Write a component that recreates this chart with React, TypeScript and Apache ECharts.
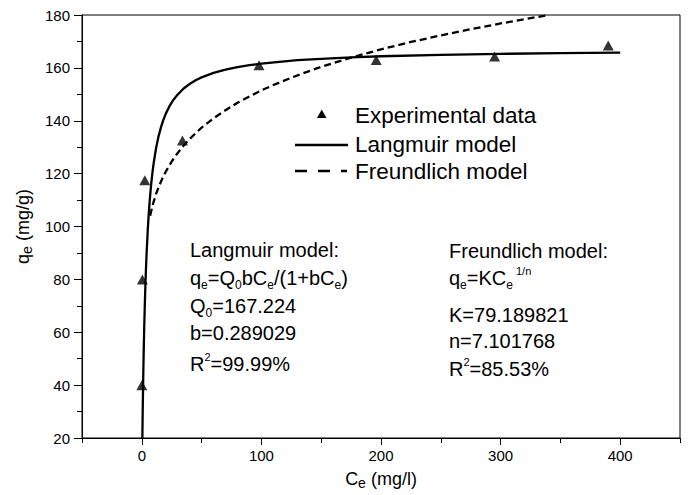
import React, { useEffect, useRef } from "react";
import * as echarts from "echarts";

// Experimental data (Ce in mg/l, qe in mg/g)
const experimentalCe = [0, 0.5, 2.5, 34, 98, 196, 295, 390];
const experimentalQe = [40, 80, 117.5, 132.5, 161, 163, 164.3, 168.5];

// Langmuir model curve
const langmuirCe = [0.47, 0.6, 0.8, 1, 1.25, 1.5, 1.75, 2, 2.5, 3, 3.5, 4, 5, 6, 7, 8, 9, 10, 12, 14, 16, 18, 20, 23, 26, 30, 35, 40, 45, 50, 60, 70, 80, 90, 100, 115, 130, 150, 175, 200, 250, 300, 350, 400];
const langmuirQe = [20, 24.7, 31.4, 37.5, 44.4, 50.6, 56.2, 61.3, 70.1, 77.7, 84.1, 89.7, 98.8, 106.1, 111.9, 116.7, 120.8, 124.2, 129.8, 134.1, 137.5, 140.3, 142.6, 145.4, 147.6, 149.9, 152.2, 153.9, 155.3, 156.4, 158.1, 159.3, 160.3, 161.0, 161.6, 162.3, 162.9, 163.4, 164.0, 164.4, 164.9, 165.3, 165.6, 165.8];

// Freundlich model curve
const freundlichCe = [7, 8, 9, 10, 11, 12, 13, 15, 17, 20, 25, 30, 35, 40, 45, 50, 60, 70, 80, 100, 110, 125, 140, 150, 175, 200, 225, 250, 275, 300, 320, 340];
const freundlichQe = [104.1, 106.1, 107.9, 109.5, 111.0, 112.4, 113.6, 115.9, 118.0, 120.7, 124.6, 127.8, 130.6, 133.1, 135.3, 137.4, 140.9, 144.0, 146.8, 151.5, 153.5, 156.3, 158.8, 160.4, 163.9, 167.0, 169.8, 172.3, 174.6, 176.8, 178.4, 180.0];

// Axis ticks
const xMajorTicks = [0, 100, 200, 300, 400];
const xMinorTicks = [-50, 50, 150, 250, 350, 450];
const xRange = [-50, 450];
const yRange = [20, 180];
const yInterval = 20;

// Texts
const legendLabels = ["Experimental data", "Langmuir model", "Freundlich model"];
const langmuirNotes = [
  "Langmuir model:",
  "q{s|e}=Q{s|0}bC{s|e}/(1+bC{s|e})",
  "Q{s|0}=167.224",
  "b=0.289029",
  "R{p|2}=99.99%",
];
const freundlichNotes = [
  "Freundlich model:",
  "q{s|e}=KC{s|e}{p| 1/n}",
  "K=79.189821",
  "n=7.101768",
  "R{p|2}=85.53%",
];

const FONT = "'Liberation Sans', Arial, Helvetica, sans-serif";

export default function App() {
  const ref = useRef<HTMLDivElement>(null);

  useEffect(() => {
    if (!ref.current) return;
    const chart = echarts.init(ref.current, undefined, { renderer: "svg" });

    const noteRich = {
      s: { fontSize: 12, lineHeight: 12, verticalAlign: "bottom", fontFamily: FONT, fill: "#000" },
      p: { fontSize: 11, lineHeight: 18, verticalAlign: "top", fontFamily: FONT, fill: "#000" },
    };
    const noteText = (text: string, x: number, y: number) => ({
      type: "text",
      x,
      y,
      silent: true,
      style: {
        text,
        fontSize: 20,
        fontFamily: FONT,
        fill: "#000",
        lineHeight: 26,
        textAlign: "left",
        textVerticalAlign: "middle",
        rich: noteRich,
      },
    });

    const leftYs = [250, 278, 306, 333, 364];
    const rightYs = [251, 278, 315, 341, 369];

    const graphics: any[] = [];
    langmuirNotes.forEach((t, i) => graphics.push(noteText(t, 190, leftYs[i])));
    freundlichNotes.forEach((t, i) => graphics.push(noteText(t, 449, rightYs[i])));

    // legend
    graphics.push({
      type: "polygon",
      silent: true,
      shape: { points: [[317, 118], [326.5, 118], [321.75, 109.5]] },
      style: { fill: "#000" },
    });
    graphics.push({
      type: "line",
      silent: true,
      shape: { x1: 295, y1: 145, x2: 348, y2: 145 },
      style: { stroke: "#000", lineWidth: 2.4 },
    });
    graphics.push({
      type: "line",
      silent: true,
      shape: { x1: 295, y1: 171, x2: 347, y2: 171 },
      style: { stroke: "#000", lineWidth: 2.4, lineDash: [12, 11] },
    });
    const legendYs = [115, 144, 171];
    legendLabels.forEach((t, i) =>
      graphics.push({
        type: "text",
        x: 355,
        y: legendYs[i],
        silent: true,
        style: {
          text: t,
          fontSize: 22.5,
          fontFamily: FONT,
          fill: "#000",
          textAlign: "left",
          textVerticalAlign: "middle",
        },
      })
    );

    const axisNameRich = {
      n: { fontSize: 18, lineHeight: 22, fontFamily: FONT, color: "#000", verticalAlign: "middle" },
      s: { fontSize: 14, lineHeight: 12, fontFamily: FONT, color: "#000", verticalAlign: "bottom" },
    };

    const option: any = {
      animation: false,
      backgroundColor: "#fff",
      grid: {
        left: 82,
        right: 8,
        top: 15,
        bottom: 56,
        show: true,
        borderColor: "#000",
        borderWidth: 1,
        backgroundColor: "transparent",
      },
      xAxis: [
        {
          type: "value",
          min: xRange[0],
          max: xRange[1],
          position: "bottom",
          axisLine: { show: true, onZero: false, lineStyle: { color: "#000", width: 1 } },
          axisTick: { show: true, inside: false, length: 7, customValues: xMajorTicks, lineStyle: { color: "#000", width: 1 } },
          axisLabel: { show: true, customValues: xMajorTicks, margin: 10, fontSize: 15, color: "#000", fontFamily: FONT },
          splitLine: { show: false },
          name: "{n|C}{s|e}{n| (mg/l)}",
          nameLocation: "middle",
          nameGap: 30,
          nameTextStyle: { rich: axisNameRich },
        },
        {
          type: "value",
          min: xRange[0],
          max: xRange[1],
          position: "bottom",
          offset: 0,
          axisLine: { show: false, onZero: false },
          axisTick: { show: true, inside: false, length: 5, customValues: xMinorTicks, lineStyle: { color: "#000", width: 1 } },
          axisLabel: { show: false },
          splitLine: { show: false },
        },
      ],
      yAxis: {
        type: "value",
        min: yRange[0],
        max: yRange[1],
        interval: yInterval,
        axisLine: { show: true, onZero: false, lineStyle: { color: "#000", width: 1 } },
        axisTick: { show: true, inside: false, length: 8, lineStyle: { color: "#000", width: 1 } },
        minorTick: { show: true, splitNumber: 2, length: 5, lineStyle: { color: "#000", width: 1 } },
        axisLabel: { margin: 12, fontSize: 15, color: "#000", fontFamily: FONT },
        splitLine: { show: false },
        minorSplitLine: { show: false },
        name: "{n|q}{s|e}{n| (mg/g)}",
        nameLocation: "middle",
        nameGap: 48,
        nameRotate: 90,
        nameTextStyle: { rich: axisNameRich },
      },
      series: [
        {
          name: "Langmuir model",
          type: "line",
          xAxisIndex: 0,
          data: langmuirCe.map((c, i) => [c, langmuirQe[i]]),
          showSymbol: false,
          symbol: "none",
          smooth: false,
          lineStyle: { color: "#000", width: 2.3, join: "round" },
          z: 3,
        },
        {
          name: "Freundlich model",
          type: "line",
          xAxisIndex: 0,
          data: freundlichCe.map((c, i) => [c, freundlichQe[i]]),
          showSymbol: false,
          symbol: "none",
          smooth: false,
          lineStyle: { color: "#000", width: 2.3, type: [7, 4], join: "round" },
          z: 3,
        },
        {
          name: "Experimental data",
          type: "scatter",
          xAxisIndex: 0,
          data: experimentalCe.map((c, i) => [c, experimentalQe[i]]),
          symbol: "triangle",
          symbolSize: [11, 10],
          itemStyle: { color: "#000" },
          z: 4,
        },
      ],
      graphic: graphics,
    };

    chart.setOption(option);
    return () => chart.dispose();
  }, []);

  return (
    <div
      ref={ref}
      style={{ position: "fixed", left: 0, top: 0, width: 688, height: 495, background: "#fff" }}
    />
  );
}
